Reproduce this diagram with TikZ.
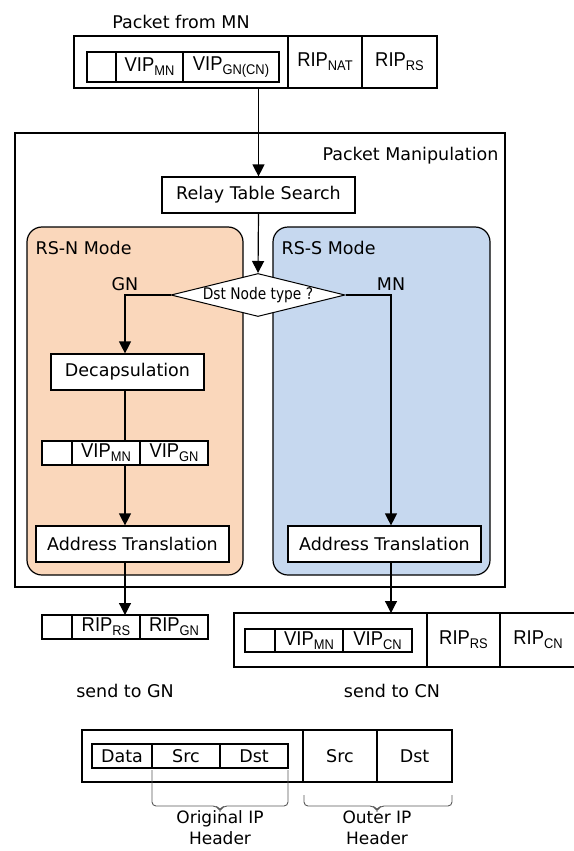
\documentclass[tikz,border=0pt]{standalone}
\usepackage{fontspec}
\setmainfont{DejaVu Sans}
\newfontfamily\cellfont[FakeStretch=0.92]{Liberation Sans}
\newfontfamily\narrowfont[FakeStretch=0.86]{DejaVu Sans}
\usetikzlibrary{arrows.meta,positioning,shapes.geometric}
\definecolor{rsnfill}{RGB}{250,215,187}
\definecolor{rssfill}{RGB}{198,216,239}
\newcommand{\fld}[2]{#1\raisebox{-4pt}{\fontsize{14}{14}\selectfont #2}}

\begin{document}
\begin{tikzpicture}[
  x=1pt, y=-1pt,
  every node/.style={font=\fontsize{17.5}{22}\selectfont},
  tag/.style={inner sep=0pt},
  flow/.style={draw, line width=1.2pt, -{Triangle[length=12pt,width=12pt]}},
  link/.style={draw, line width=1.2pt},
  proc/.style={draw, fill=white, line width=1.2pt, minimum height=36, inner sep=0pt},
  mode/.style={draw, line width=1.2pt, rounded corners=15pt, inner sep=0pt, minimum height=348},
  cell/.style={draw, fill=white, line width=1.1pt, inner sep=0pt, outer sep=0pt,
    minimum height=#1, font=\cellfont\fontsize{20}{20}\selectfont},
  cell/.default=24,
  gothic/.style={font=\normalfont\fontsize{17.5}{17.5}\selectfont},
  brace/.style={draw=black!65, line width=0.9pt, rounded corners=4pt}
]
\useasboundingbox (0,0) rectangle (573,851);

% Packet Manipulation
\node[draw, line width=1.2pt, minimum width=490, minimum height=454, inner sep=0pt] (pm) at (260,360) {};
\node[tag, anchor=base east] (pmlbl) at ([shift={(-7,28)}]pm.north east) {Packet Manipulation};

\node[mode, fill=rsnfill, minimum width=216] (rsn) at (135,401) {};
\node[mode, fill=rssfill, minimum width=217] (rss) at (381.5,401) {};
\node[tag, anchor=base west] (rsnlbl) at ([shift={(9,28)}]rsn.north west) {RS-N Mode};
\node[tag, anchor=base west] (rsslbl) at ([shift={(9,28)}]rss.north west) {RS-S Mode};

\coordinate (gncol) at (125,0);
\coordinate (mncol) at (391,0);

\node[proc, minimum width=193] (relay) at (258.5,195) {Relay Table Search};
\node[draw, diamond, aspect=4, fill=white, line width=1pt, minimum width=174, minimum height=43,
  inner sep=0pt, font=\narrowfont\fontsize{16}{16}\selectfont] (dsttype) at (258,295) {Dst Node type ?};
\node[proc, minimum width=153] (decap) at (127.5,372) {Decapsulation};
\node[proc, minimum width=193] (addrL) at (132.5,544) {Address Translation};
\node[proc, minimum width=193] (addrR) at (384.5,544) {Address Translation};

% packet from MN
\node[cell=52, minimum width=214, anchor=north west] (top-body) at (74,36) {};
\node[cell=52, minimum width=74, right=0pt of top-body] (top-nat) {\fld{RIP}{NAT}};
\node[cell=52, minimum width=75, right=0pt of top-nat] (top-rs) {\fld{RIP}{RS}};
\node[cell=30, minimum width=29, anchor=north west] (top-blank) at (87,52) {};
\node[cell=30, minimum width=67, right=0pt of top-blank] (top-mn) {\fld{VIP}{MN}};
\node[cell=30, minimum width=96, right=0pt of top-mn] (top-gn) {\fld{VIP}{GN(CN)}};
\node[tag, anchor=base] (toplbl) at ([yshift=7pt]top-body.north) {Packet from MN};

% decapsulated packet
\node[cell, minimum width=30, anchor=north west] (gn-blank) at (42,441) {};
\node[cell, minimum width=68, right=0pt of gn-blank] (gn-mn) {\fld{VIP}{MN}};
\node[cell, minimum width=68, right=0pt of gn-mn] (gn-gn) {\fld{VIP}{GN}};

% packet to GN
\node[cell, minimum width=30, anchor=north west] (out-blank) at (42,615) {};
\node[cell, minimum width=68, right=0pt of out-blank] (out-rs) {\fld{RIP}{RS}};
\node[cell, minimum width=68, right=0pt of out-rs] (out-gn) {\fld{RIP}{GN}};

% packet to CN
\node[cell=54, minimum width=193, anchor=north west] (cn-body) at (234,613) {};
\node[cell=54, minimum width=73, right=0pt of cn-body] (cn-rs) {\fld{RIP}{RS}};
\node[cell=54, minimum width=76, right=0pt of cn-rs] (cn-cn) {\fld{RIP}{CN}};
\node[cell=23, minimum width=30, anchor=north west] (cn-blank) at (245,629) {};
\node[cell=23, minimum width=68, right=0pt of cn-blank] (cn-mn) {\fld{VIP}{MN}};
\node[cell=23, minimum width=69, right=0pt of cn-mn] (cn-vcn) {\fld{VIP}{CN}};

% connectors
\draw[flow] (relay.north |- top-body.south) -- (relay.north);
\draw[flow] (relay.south) -- (dsttype.north);
\draw[flow] (dsttype.west) -| (gncol |- decap.north);
\draw[link] (gncol |- decap.south) -- (gncol |- gn-mn.north);
\draw[flow] (gncol |- gn-mn.south) -- (gncol |- addrL.north);
\draw[flow] (gncol |- addrL.south) -- (gncol |- out-rs.north);
\draw[flow] (dsttype.east) -| (mncol |- addrR.north);
\draw[flow] (mncol |- addrR.south) -- (mncol |- cn-body.north);

\coordinate (gnturn) at (gncol |- dsttype.west);
\coordinate (mnturn) at (mncol |- dsttype.east);
\node[above=1pt of gnturn] (gnlbl) {GN};
\node[above=1pt of mnturn] (mnlbl) {MN};

\node[tag, anchor=base] (sendgn) at (125,697) {send to GN};
\node[tag, anchor=base] (sendcn) at (392,697) {send to CN};

% legend
\node[cell=52, minimum width=221, anchor=north west] (lg-body) at (82,730) {};
\node[cell=52, gothic, minimum width=74, right=0pt of lg-body] (lg-src2) {Src};
\node[cell=52, gothic, minimum width=75, right=0pt of lg-src2] (lg-dst2) {Dst};
\node[cell, gothic, minimum width=60, anchor=north west] (lg-data) at (92,744) {Data};
\node[cell, gothic, minimum width=68, right=0pt of lg-data] (lg-src1) {Src};
\node[cell, gothic, minimum width=68, right=0pt of lg-src1] (lg-dst1) {Dst};

\draw[brace] (152,770) -- (152,806) -- (217,806) -- (220,811) -- (223,806) -- (288,806) -- (288,770);
\draw[brace] (304,795) -- (304,806) -- (374,806) -- (377,811) -- (380,806) -- (452,806) -- (452,795);
\node[tag, align=center, font=\fontsize{17}{21}\selectfont] (origlbl) at (220,828) {Original IP\\Header};
\node[tag, align=center, font=\fontsize{17}{21}\selectfont] (outerlbl) at (377,828) {Outer IP\\Header};

\end{tikzpicture}
\end{document}
